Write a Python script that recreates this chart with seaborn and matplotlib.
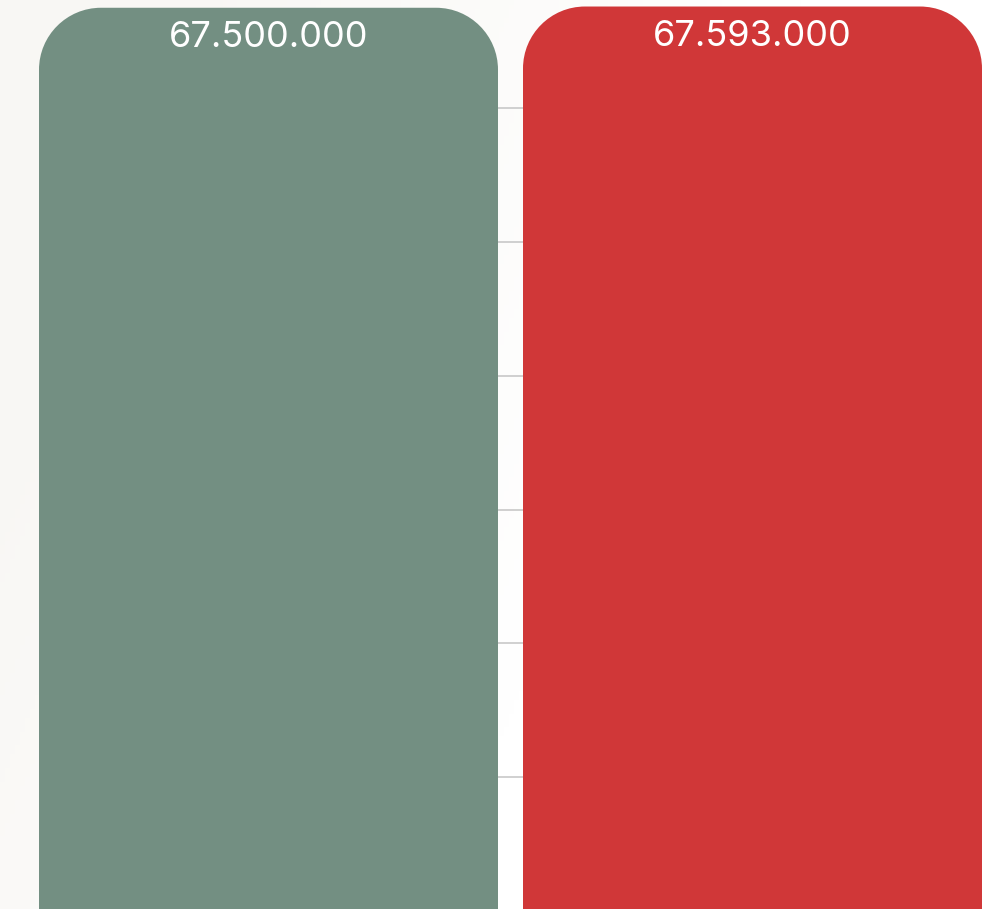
import numpy as np
import pandas as pd
import matplotlib
matplotlib.use("Agg")
import matplotlib.pyplot as plt
import seaborn as sns
from matplotlib.path import Path
from matplotlib.patches import PathPatch

# ---- data ----
categories = ["A", "B"]
values = [67500000, 67593000]
labels = ["67.500.000", "67.593.000"]
colors = ["#738f82", "#d03738"]

W, H = 989, 909
sns.set_theme(style="white")
plt.rcParams['font.family'] = ['Inter', 'DejaVu Sans']

fig = plt.figure(figsize=(W / 100, H / 100), dpi=100)
fig.patch.set_facecolor("white")

# subtle off-white background (upper-left)
bg = fig.add_axes([0, 0, 1, 1], zorder=-5)
yy, xx = np.mgrid[0:1:200j, 0:1:200j]
t = np.clip(1.3 - (xx * 1.6 + yy * 0.6), 0, 1)
base = np.array([1.0, 1.0, 1.0])
tint = np.array([0.975, 0.970, 0.958])
img = base[None, None, :] * (1 - t[..., None]) + tint[None, None, :] * t[..., None]
bg.imshow(img, extent=[0, 1, 0, 1], aspect="auto", origin="upper")
bg.axis("off")

ax_left, ax_right = 39 / W, 982 / W
ax = fig.add_axes([ax_left, 0, ax_right - ax_left, 1])
ax.set_facecolor("none")

df = pd.DataFrame({"cat": categories, "val": values})
bw = 459 / 484
sns.barplot(data=df, x="cat", y="val", hue="cat", palette=colors,
            width=bw, legend=False, ax=ax, saturation=1)

ax.set_xlim(-bw / 2, 1 + bw / 2)
ax.set_ylim(0.15e6, 68.08e6)
ax.set_yticks(np.arange(10e6, 70e6, 10e6))
ax.yaxis.grid(True, color="#c8c8c8", linewidth=1.2)
ax.set_axisbelow(True)
for s in ax.spines.values():
    s.set_visible(False)
ax.set_xticks([])
ax.tick_params(left=False, labelleft=False)
ax.set_xlabel("")
ax.set_ylabel("")

fig.canvas.draw()
# pixel -> data scales
x_per_px = (ax.get_xlim()[1] - ax.get_xlim()[0]) / (ax.bbox.width)
y_per_px = (ax.get_ylim()[1] - ax.get_ylim()[0]) / (ax.bbox.height)
r_px = 62
rx, ry = r_px * x_per_px, r_px * y_per_px
k = 0.5523

for p, lab in zip(list(ax.patches), labels):
    x0 = p.get_x()
    w = p.get_width()
    y0 = p.get_y()
    h = p.get_height()
    x1 = x0 + w
    top = y0 + h
    verts = [
        (x0, y0), (x0, top - ry),
        (x0, top - ry + k * ry), (x0 + rx - k * rx, top), (x0 + rx, top),
        (x1 - rx, top),
        (x1 - rx + k * rx, top), (x1, top - ry + k * ry), (x1, top - ry),
        (x1, y0), (x0, y0),
    ]
    codes = [Path.MOVETO, Path.LINETO,
             Path.CURVE4, Path.CURVE4, Path.CURVE4,
             Path.LINETO,
             Path.CURVE4, Path.CURVE4, Path.CURVE4,
             Path.LINETO, Path.CLOSEPOLY]
    pp = PathPatch(Path(verts, codes), facecolor=p.get_facecolor(),
                   edgecolor="none", zorder=2)
    p.set_visible(False)
    ax.add_patch(pp)
    ax.text(x0 + w / 2, top - 29.5 * y_per_px, lab, ha="center", va="center",
            color="white", fontsize=26, zorder=3)

fig.savefig("out.png", dpi=100, facecolor=fig.get_facecolor())
